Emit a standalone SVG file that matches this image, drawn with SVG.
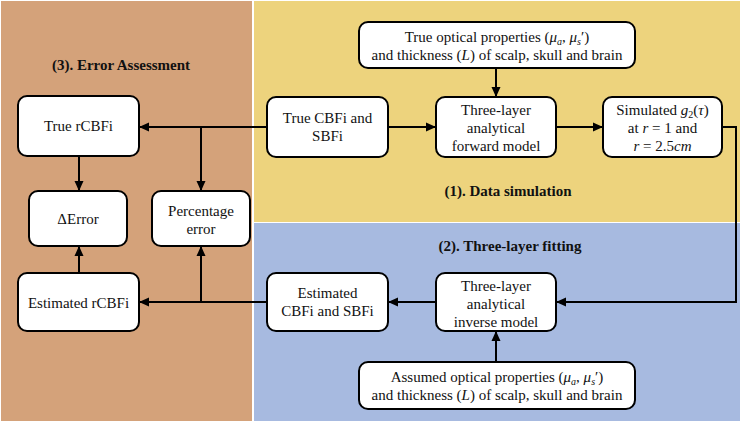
<svg xmlns="http://www.w3.org/2000/svg" width="742" height="423" viewBox="0 0 742 423">
<defs>
<style>
.box{fill:#fff;stroke:#000;stroke-width:2}
.t{font-family:"Liberation Serif","Times New Roman",serif;font-size:15px;fill:#111;text-anchor:middle}
.h{font-family:"Liberation Serif","Times New Roman",serif;font-size:15px;font-weight:bold;fill:#111;text-anchor:middle}
.i{font-style:italic}
.ln{fill:none;stroke:#000;stroke-width:2}
</style>
<marker id="ah" markerWidth="10" markerHeight="10" refX="9" refY="5" orient="auto" markerUnits="userSpaceOnUse">
<path d="M0,0.5 L10,5 L0,9.5 Z" fill="#000"/>
</marker>
</defs>
<g id="background">
<rect x="0" y="0" width="742" height="423" fill="#fff"/>
<rect x="1" y="1" width="251" height="420" fill="#D4A27A"/>
<rect x="254" y="1" width="486" height="221" fill="#EDD37D"/>
<rect x="254" y="223" width="486" height="198" fill="#A7BAE0"/>
</g>
<g id="titles">
<text class="h" x="121" y="70">(3). Error Assessment</text>
<text class="h" x="508" y="196">(1). Data simulation</text>
<text class="h" x="510" y="251">(2). Three-layer fitting</text>
</g>
<g id="connectors">
<path class="ln" d="M267,127 H140" marker-end="url(#ah)"/>
<path class="ln" d="M201,127 V190" marker-end="url(#ah)"/>
<path class="ln" d="M79,156 V190" marker-end="url(#ah)"/>
<path class="ln" d="M79,273 V247" marker-end="url(#ah)"/>
<path class="ln" d="M267,302 H140" marker-end="url(#ah)"/>
<path class="ln" d="M201,302 V247" marker-end="url(#ah)"/>
<path class="ln" d="M388,127 H435" marker-end="url(#ah)"/>
<path class="ln" d="M496,68 V96" marker-end="url(#ah)"/>
<path class="ln" d="M556,127 H602" marker-end="url(#ah)"/>
<path class="ln" d="M722,127 H736 V302 H557" marker-end="url(#ah)"/>
<path class="ln" d="M436,302 H389" marker-end="url(#ah)"/>
<path class="ln" d="M496,362 V332" marker-end="url(#ah)"/>
</g>
<g id="true-rcbfi">
<rect class="box" x="18" y="96" width="121" height="60" rx="9"/>
<text class="t" x="78.5" y="131">True rCBFi</text>
</g>
<g id="delta-error">
<rect class="box" x="29" y="191" width="98" height="55" rx="9"/>
<text class="t" x="78" y="224">ΔError</text>
</g>
<g id="percentage-error">
<rect class="box" x="152" y="191" width="98" height="55" rx="9"/>
<text class="t" x="201" y="216">Percentage</text>
<text class="t" x="201" y="234">error</text>
</g>
<g id="estimated-rcbfi">
<rect class="box" x="18" y="273" width="121" height="58" rx="9"/>
<text class="t" x="78.5" y="308">Estimated rCBFi</text>
</g>
<g id="true-cbfi-sbfi">
<rect class="box" x="267" y="97" width="121" height="60" rx="9"/>
<text class="t" x="327.5" y="123">True CBFi and</text>
<text class="t" x="327.5" y="141">SBFi</text>
</g>
<g id="true-optical">
<rect class="box" x="359" y="22" width="276" height="46" rx="9"/>
<text class="t" x="497" y="42">True optical properties (<tspan class="i">μ</tspan><tspan class="i" font-size="10" dy="3">a</tspan><tspan dy="-3">, </tspan><tspan class="i">μ</tspan><tspan class="i" font-size="10" dy="3">s</tspan><tspan dy="-3">′)</tspan></text>
<text class="t" x="497" y="60">and thickness (<tspan class="i">L</tspan>) of scalp, skull and brain</text>
</g>
<g id="forward-model">
<rect class="box" x="436" y="97" width="120" height="60" rx="9"/>
<text class="t" x="496" y="115">Three-layer</text>
<text class="t" x="496" y="133">analytical</text>
<text class="t" x="496" y="151">forward model</text>
</g>
<g id="simulated-g2">
<rect class="box" x="603" y="97" width="119" height="60" rx="9"/>
<text class="t" x="662.5" y="115">Simulated <tspan class="i">g</tspan><tspan font-size="10" dy="3">2</tspan><tspan dy="-3">(</tspan><tspan class="i">τ</tspan>)</text>
<text class="t" x="662.5" y="133">at <tspan class="i">r</tspan> = 1 and</text>
<text class="t" x="662.5" y="151"><tspan class="i">r</tspan> = 2.5<tspan class="i">cm</tspan></text>
</g>
<g id="estimated-cbfi-sbfi">
<rect class="box" x="267" y="273" width="121" height="58" rx="9"/>
<text class="t" x="327.5" y="298">Estimated</text>
<text class="t" x="327.5" y="316">CBFi and SBFi</text>
</g>
<g id="inverse-model">
<rect class="box" x="436" y="273" width="120" height="58" rx="9"/>
<text class="t" x="496" y="291">Three-layer</text>
<text class="t" x="496" y="309">analytical</text>
<text class="t" x="496" y="327">inverse model</text>
</g>
<g id="assumed-optical">
<rect class="box" x="359" y="362" width="276" height="47" rx="9"/>
<text class="t" x="497" y="382">Assumed optical properties (<tspan class="i">μ</tspan><tspan class="i" font-size="10" dy="3">a</tspan><tspan dy="-3">, </tspan><tspan class="i">μ</tspan><tspan class="i" font-size="10" dy="3">s</tspan><tspan dy="-3">′)</tspan></text>
<text class="t" x="497" y="400">and thickness (<tspan class="i">L</tspan>) of scalp, skull and brain</text>
</g>
</svg>
